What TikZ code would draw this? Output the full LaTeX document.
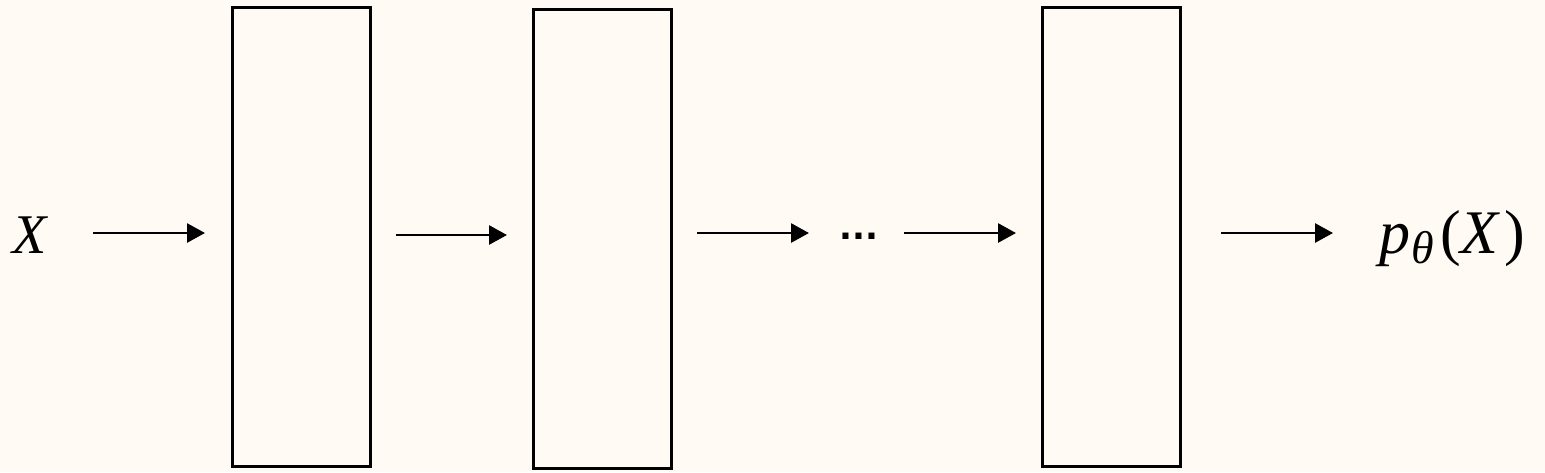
\documentclass[tikz,border=0pt]{standalone}
\usepackage{fontspec}
\setmainfont{Liberation Serif}
\newfontfamily\dotfont{DejaVu Sans}
\usetikzlibrary{arrows.meta}
\definecolor{bgcream}{RGB}{255,250,243}
\tikzset{
  blockbox/.style={draw=black, line width=1.5pt, fill=bgcream, inner sep=0pt, minimum width=69pt, minimum height=229.5pt},
  arr/.style={line width=1.4pt, -{Triangle[length=9pt,width=9.5pt]}},
  lbl/.style={inner sep=0pt, font=\fontsize{28}{30}\selectfont}
}
\begin{document}
\begin{tikzpicture}[x=0.5pt,y=-0.5pt]
\fill[bgcream] (0,0) rectangle (1545,472);
\useasboundingbox (0,0) rectangle (1545,472);

\node[blockbox] (b1) at (301,237) {};
\node[blockbox] (b2) at (602.5,238.5) {};
\node[blockbox] (b3) at (1111.5,237) {};

\node[lbl, anchor=base] (x) at (31,253) {\textit{X}};
\node[lbl, anchor=base] (dots) at (859,239) {\dotfont\fontsize{17}{19}\selectfont\bfseries ...};
\node[lbl, anchor=base west] (out) at (1379,253) {\fontsize{31}{33}\selectfont\textit{p}\kern0.5pt\raisebox{-5pt}{\fontsize{23}{25}\selectfont\textit{θ}}\kern3pt(\textit{X}\kern2pt)};

\coordinate (a1s) at (93,233);  \coordinate (a1e) at (205,233);
\coordinate (a2s) at (396,235); \coordinate (a2e) at (507,235);
\coordinate (a3s) at (697,233); \coordinate (a3e) at (809,233);
\coordinate (a4s) at (904,233); \coordinate (a4e) at (1016,233);
\coordinate (a5s) at (1221,233); \coordinate (a5e) at (1333,233);

\draw[arr] (a1s) -- (a1e);
\draw[arr] (a2s) -- (a2e);
\draw[arr] (a3s) -- (a3e);
\draw[arr] (a4s) -- (a4e);
\draw[arr] (a5s) -- (a5e);
\end{tikzpicture}
\end{document}
